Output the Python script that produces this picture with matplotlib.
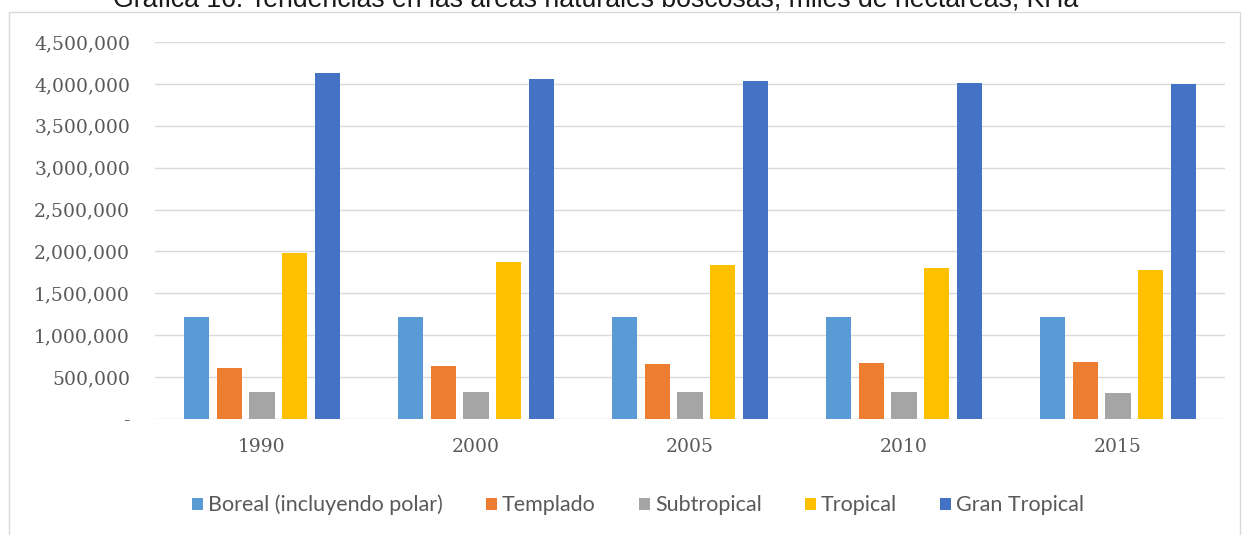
import matplotlib
matplotlib.use("Agg")
import matplotlib.pyplot as plt
from matplotlib.patches import Rectangle
from matplotlib.ticker import FuncFormatter
import numpy as np

years = ["1990", "2000", "2005", "2010", "2015"]
boreal = [1219000, 1219000, 1218000, 1218000, 1219000]
templado = [605000, 632000, 656000, 668000, 684000]
subtropical = [322000, 320000, 318000, 318000, 315000]
tropical = [1977000, 1874000, 1838000, 1800000, 1778000]
gran_tropical = [4128000, 4056000, 4033000, 4016000, 3999000]

series_names = ["Boreal (incluyendo polar)", "Templado", "Subtropical", "Tropical", "Gran Tropical"]
series = [boreal, templado, subtropical, tropical, gran_tropical]
colors = ["#5B9BD5", "#ED7D31", "#A5A5A5", "#FFC000", "#4472C4"]
title = "Gráfica 16. Tendencias en las áreas naturales boscosas, miles de hectáreas, KHa"

W, H = 1244, 535
fig = plt.figure(figsize=(W / 100, H / 100), dpi=100)
fig.patch.set_facecolor("white")

# chart-area frame
fig.patches.append(Rectangle((9 / W, -0.05), (1240 - 9) / W, 1 - 12 / H + 0.05,
                             transform=fig.transFigure, fill=False,
                             edgecolor="#D9D9D9", linewidth=1.0))

fig.text(596 / W, 1 - 7 / H, title, ha="center", va="baseline",
         fontsize=19.2, family="Liberation Sans", color="#1a1a1a")

ax = fig.add_axes([155 / W, 1 - 419 / H, (1225 - 155) / W, (419 - 42) / H])
x = np.arange(len(years))
bw = 0.117
pitch = 0.154
for i, (name, vals, c) in enumerate(zip(series_names, series, colors)):
    ax.bar(x + (i - 2) * pitch, vals, width=bw, color=c, label=name, zorder=3)

ax.set_xlim(-0.5, len(years) - 0.5)
ax.set_ylim(0, 4500000)
ax.set_yticks(np.arange(0, 4500001, 500000))
ax.yaxis.set_major_formatter(FuncFormatter(lambda v, p: "-" if v == 0 else f"{int(v):,}"))
ax.set_xticks(x)
ax.set_xticklabels(years)
ax.grid(axis="y", color="#D9D9D9", linewidth=1.0, zorder=0)
for s in ax.spines.values():
    s.set_visible(False)
ax.tick_params(axis="both", length=0, colors="#595959", labelsize=13.5)
ax.tick_params(axis="y", pad=18)
ax.tick_params(axis="x", pad=14)
for lbl in ax.get_xticklabels() + ax.get_yticklabels():
    lbl.set_family("DejaVu Serif")
    lbl.set_color("#595959")

leg = fig.legend(loc="center", bbox_to_anchor=(638 / W, 1 - 505 / H), ncol=5,
                 frameon=False, handlelength=0.5, handleheight=0.5,
                 handletextpad=0.25, columnspacing=2.0,
                 prop={"family": "Lato", "size": 15.5})
for t in leg.get_texts():
    t.set_color("#595959")

fig.savefig("out.png", dpi=100, facecolor="white")
